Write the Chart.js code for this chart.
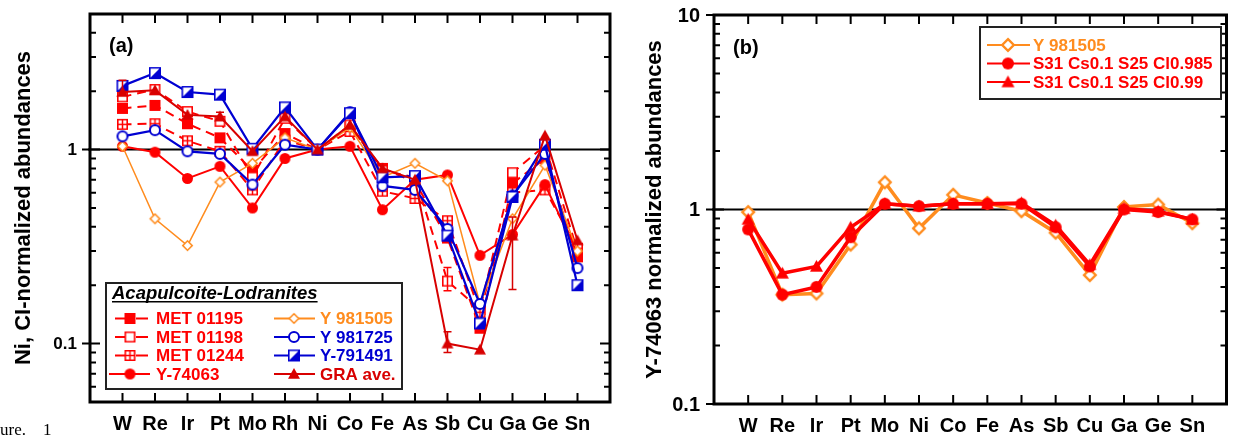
<!DOCTYPE html>
<html>
<head>
<meta charset="utf-8">
<script src="https://cdn.jsdelivr.net/npm/chart.js@4.4.1/dist/chart.umd.min.js"></script>
<style>
  html, body { margin: 0; padding: 0; background: #fff; }
  body { width: 1236px; height: 436px; position: relative; overflow: hidden; }
  #chartA { position: absolute; left: 0; top: 0; }
  #chartB { position: absolute; left: 620px; top: 0; }
  .fig { position: absolute; left: 0; top: 420px; font: 17px "Liberation Serif", serif; white-space: pre; }
</style>
</head>
<body>
<canvas id="chartA" width="620" height="436"></canvas>
<canvas id="chartB" width="616" height="436"></canvas>
<div class="fig">ure.    1</div>
<script>
// ---- data, panel (a) ----
const elementsA = ['W', 'Re', 'Ir', 'Pt', 'Mo', 'Rh', 'Ni', 'Co', 'Fe', 'As', 'Sb', 'Cu', 'Ga', 'Ge', 'Sn'];
const met01195 = [1.63, 1.69, 1.36, 1.15, 0.78, 1.21, 1.0, 1.32, 0.80, 0.68, 0.35, 0.12, 0.67, 0.90, 0.28];
const met01198 = [1.87, 2.04, 1.57, 1.40, 0.72, 1.45, 1.0, 1.34, 0.78, 0.72, 0.21, 0.15, 0.76, 1.05, 0.30];
const met01244 = [1.35, 1.36, 1.11, 0.98, 0.62, 1.12, 1.0, 1.24, 0.61, 0.56, 0.43, 0.145, 0.60, 0.62, 0.31];
const y74063 = [1.04, 0.97, 0.71, 0.82, 0.50, 0.90, 1.0, 1.04, 0.49, 0.70, 0.74, 0.285, 0.365, 0.66, 0.29];
const y981505 = [1.04, 0.44, 0.32, 0.68, 0.85, 1.15, 1.0, 1.30, 0.72, 0.85, 0.69, 0.16, 0.44, 0.83, 0.30];
const y981725 = [1.17, 1.26, 0.98, 0.95, 0.66, 1.06, 1.0, 1.56, 0.65, 0.62, 0.39, 0.16, 0.58, 0.95, 0.245];
const y791491 = [2.13, 2.48, 1.98, 1.92, 1.01, 1.65, 1.0, 1.54, 0.72, 0.73, 0.36, 0.127, 0.57, 1.06, 0.20];
const graAve = [1.98, 2.02, 1.51, 1.48, 0.98, 1.48, 1.0, 1.34, 0.80, 0.70, 0.10, 0.093, 0.36, 1.18, 0.34];
const graErrLow = [1.96, null, null, 1.42, null, null, null, null, null, null, 0.09, null, 0.19, null, null];
const graErrHigh = [2.28, null, null, 1.56, null, null, null, null, null, null, 0.115, null, 0.45, null, null];
const met01198ErrLow = [null, null, null, null, null, null, null, null, null, null, 0.187, null, null, null, null];
const met01198ErrHigh = [null, null, null, null, null, null, null, null, null, null, 0.247, null, null, null, null];
const tickLabelsA = [0.1, 1];

// ---- data, panel (b) ----
const elementsB = ['W', 'Re', 'Ir', 'Pt', 'Mo', 'Ni', 'Co', 'Fe', 'As', 'Sb', 'Cu', 'Ga', 'Ge', 'Sn'];
const y981505B = [0.97, 0.365, 0.37, 0.66, 1.38, 0.80, 1.19, 1.08, 0.98, 0.76, 0.46, 1.03, 1.06, 0.85];
const modelCl0985 = [0.79, 0.365, 0.40, 0.72, 1.07, 1.04, 1.07, 1.07, 1.07, 0.81, 0.51, 1.00, 0.97, 0.89];
const modelCl099 = [0.89, 0.47, 0.51, 0.81, 1.07, 1.04, 1.07, 1.07, 1.08, 0.83, 0.52, 1.01, 0.98, 0.89];
const tickLabelsB = [0.1, 1, 10];

const FONT = '"Liberation Sans", Arial, Helvetica, sans-serif';
const RED = '#ff0000';
const DKRED = '#d80000';
const ORANGE = '#ff8c1e';
const BLUE = '#0000d2';

// little canvases used as point styles (and in the legends)
function marker(kind, color, size, lw) {
    const c = document.createElement('canvas');
    const s = size + 4;
    c.width = s;
    c.height = s;
    const g = c.getContext('2d');
    const m = s / 2, h = size / 2, r = h - lw / 2;
    g.fillStyle = color;
    g.strokeStyle = color;
    g.lineWidth = lw;
    if (kind === 'squareFill') {
        g.fillRect(m - h, m - h, size, size);
        return c;
    }
    if (kind === 'circleFill') {
        g.beginPath();
        g.arc(m, m, h, 0, Math.PI * 2);
        g.fill();
        return c;
    }
    if (kind === 'triangle') {
        g.beginPath();
        g.moveTo(m, m - h);
        g.lineTo(m + h, m + h * 0.8);
        g.lineTo(m - h, m + h * 0.8);
        g.closePath();
        g.fill();
        return c;
    }
    const outline = () => {
        g.beginPath();
        if (kind === 'circleOpen') g.arc(m, m, r, 0, Math.PI * 2);
        else if (kind === 'diamondOpen') {
            g.moveTo(m, m - r);
            g.lineTo(m + r, m);
            g.lineTo(m, m + r);
            g.lineTo(m - r, m);
            g.closePath();
        } else g.rect(m - r, m - r, r * 2, r * 2);
    };
    outline();
    g.fillStyle = '#fff';
    g.fill();
    g.fillStyle = color;
    if (kind === 'squareHalf') {
        g.beginPath();
        g.moveTo(m + r, m - r);
        g.lineTo(m + r, m + r);
        g.lineTo(m - r, m + r);
        g.closePath();
        g.fill();
    }
    if (kind === 'squareCross') {
        g.beginPath();
        g.lineWidth = 1.5;
        g.moveTo(m, m - r);
        g.lineTo(m, m + r);
        g.moveTo(m - r, m);
        g.lineTo(m + r, m);
        g.stroke();
        g.lineWidth = lw;
    }
    outline();
    g.stroke();
    return c;
}

const seriesA = [
    { label: 'MET 01195', data: met01195, color: RED, width: 2, dash: true, mk: marker('squareFill', RED, 11, 2) },
    { label: 'MET 01198', data: met01198, color: RED, width: 2, dash: true, mk: marker('squareOpen', RED, 11, 1.6) },
    { label: 'MET 01244', data: met01244, color: RED, width: 2, dash: true, mk: marker('squareCross', RED, 11, 1.6) },
    { label: 'Y-74063', data: y74063, color: RED, width: 2, dash: false, mk: marker('circleFill', RED, 11, 2) },
    { label: 'Y 981505', data: y981505, color: ORANGE, width: 1.5, dash: false, mk: marker('diamondOpen', ORANGE, 11, 1.6) },
    { label: 'Y 981725', data: y981725, color: BLUE, width: 2.2, dash: false, mk: marker('circleOpen', BLUE, 12, 2) },
    { label: 'Y-791491', data: y791491, color: BLUE, width: 2.2, dash: false, mk: marker('squareHalf', BLUE, 12, 1.6) },
    { label: 'GRA ave.', data: graAve, color: DKRED, width: 2, dash: false, mk: marker('triangle', DKRED, 12, 2) }
];

const seriesB = [
    { label: 'Y 981505', data: y981505B, color: ORANGE, width: 3.5, dash: false, mk: marker('diamondOpen', ORANGE, 14, 2.4) },
    { label: 'S31 Cs0.1 S25 Cl0.985', data: modelCl0985, color: RED, width: 3.5, dash: false, mk: marker('circleFill', RED, 12, 2) },
    { label: 'S31 Cs0.1 S25 Cl0.99', data: modelCl099, color: RED, width: 3.5, dash: false, mk: marker('triangle', RED, 13, 2) }
];

function toDataset(s, order) {
    return {
        label: s.label,
        data: s.data.map((v, i) => ({ x: i + 1, y: v })),
        borderColor: s.color,
        backgroundColor: s.color,
        borderWidth: s.width,
        borderDash: s.dash ? [9, 6] : [],
        pointStyle: s.mk,
        pointRadius: 6,
        pointHoverRadius: 6,
        fill: false,
        tension: 0,
        order: order
    };
}

function legendRow(ctx, s, x0, x1, xm, yc, textX, font) {
    ctx.strokeStyle = s.color;
    ctx.lineWidth = s.width < 2 ? 1.8 : 2.2;
    ctx.beginPath();
    if (s.dash) {
        ctx.moveTo(x0 + 6, yc); ctx.lineTo(xm - 5, yc);
        ctx.moveTo(xm + 6, yc); ctx.lineTo(x1 - 2, yc);
    } else {
        ctx.moveTo(x0, yc); ctx.lineTo(x1, yc);
    }
    ctx.stroke();
    ctx.drawImage(s.mk, xm - s.mk.width / 2, yc - s.mk.height / 2);
    ctx.fillStyle = s.color;
    ctx.font = font;
    ctx.textBaseline = 'middle';
    ctx.textAlign = 'left';
    ctx.fillText(s.label, textX, yc + 1);
}

function drawLegendA(ctx) {
    ctx.save();
    ctx.fillStyle = '#fff';
    ctx.fillRect(106, 283, 296, 106);
    ctx.strokeStyle = '#222';
    ctx.lineWidth = 2;
    ctx.strokeRect(106, 283, 296, 106);
    ctx.fillStyle = '#000';
    ctx.font = 'italic bold 18.5px ' + FONT;
    ctx.textBaseline = 'alphabetic';
    ctx.fillText('Acapulcoite-Lodranites', 112, 299);
    ctx.fillRect(112, 301, ctx.measureText('Acapulcoite-Lodranites').width, 1.5);
    const rows = [318.5, 337, 355.5, 374];
    const font = 'bold 17px ' + FONT;
    for (let i = 0; i < 4; i++) {
        legendRow(ctx, seriesA[i], 109, 150, 130, rows[i], 156, font);
        legendRow(ctx, seriesA[i + 4], 274, 315, 294, rows[i], 320, font);
    }
    ctx.restore();
}

function drawLegendB(ctx) {
    ctx.save();
    ctx.fillStyle = '#fff';
    ctx.fillRect(360, 27, 241, 72);
    ctx.strokeStyle = '#222';
    ctx.lineWidth = 2;
    ctx.strokeRect(360, 27, 241, 72);
    const rows = [45, 63.5, 82];
    seriesB.forEach((s, i) => legendRow(ctx, s, 367, 410, 388, rows[i], 413, 'bold 17px ' + FONT));
    ctx.restore();
}

// frame, inward ticks, y labels, y = 1 line, error bars, panel label and legend
const framePlugin = {
    id: 'frame',
    beforeDatasetsDraw(chart) {
        const { ctx, chartArea: a, scales: { y } } = chart;
        const p = y.getPixelForValue(1);
        ctx.save();
        ctx.strokeStyle = '#000';
        ctx.lineWidth = 2;
        ctx.beginPath();
        ctx.moveTo(a.left - 2, p);
        ctx.lineTo(a.right, p);
        ctx.stroke();
        ctx.restore();
    },
    afterDatasetsDraw(chart, args, opts) {
        const { ctx, scales: { x, y } } = chart;
        ctx.save();
        (opts.errors || []).forEach(e => {
            ctx.strokeStyle = e.color;
            ctx.lineWidth = 1.5;
            e.low.forEach((lo, i) => {
                if (lo === null) return;
                const px = x.getPixelForValue(i + 1);
                const y1 = y.getPixelForValue(lo), y2 = y.getPixelForValue(e.high[i]);
                ctx.beginPath();
                ctx.moveTo(px, y1); ctx.lineTo(px, y2);
                ctx.moveTo(px - 4, y1); ctx.lineTo(px + 4, y1);
                ctx.moveTo(px - 4, y2); ctx.lineTo(px + 4, y2);
                ctx.stroke();
            });
        });
        ctx.restore();
    },
    afterDraw(chart, args, opts) {
        const { ctx, chartArea: a, scales: { x, y } } = chart;
        ctx.save();
        ctx.strokeStyle = '#000';
        ctx.lineWidth = 2;
        ctx.beginPath();
        for (let i = 1; i <= opts.count; i++) {
            const px = x.getPixelForValue(i);
            ctx.moveTo(px, a.top); ctx.lineTo(px, a.top + 9);
            ctx.moveTo(px, a.bottom); ctx.lineTo(px, a.bottom - 9);
        }
        const lo = Math.floor(Math.log10(y.min)), hi = Math.ceil(Math.log10(y.max));
        for (let e = lo; e <= hi; e++) {
            for (let m = 1; m <= 9; m++) {
                const v = m * Math.pow(10, e);
                if (v < y.min * 0.999 || v > y.max * 1.001) continue;
                const py = y.getPixelForValue(v);
                const len = m === 1 ? 10 : 6;
                ctx.moveTo(a.left - (m === 1 ? 8 : 0), py); ctx.lineTo(a.left + len, py);
                ctx.moveTo(a.right, py); ctx.lineTo(a.right - len, py);
            }
        }
        ctx.stroke();
        ctx.lineWidth = 3;
        ctx.strokeRect(a.left, a.top, a.right - a.left, a.bottom - a.top);
        ctx.fillStyle = '#000';
        ctx.font = 'bold ' + opts.yTickSize + 'px ' + FONT;
        ctx.textAlign = 'right';
        ctx.textBaseline = 'middle';
        opts.yLabels.forEach(v => ctx.fillText(String(v), a.left - opts.yTickGap, y.getPixelForValue(v) + 1));
        ctx.textAlign = 'left';
        ctx.font = 'bold 20px ' + FONT;
        ctx.fillText(opts.tag, opts.tagX, opts.tagY);
        ctx.restore();
        if (opts.legend) opts.legend(ctx);
    }
};

function buildChart(id, cats, series, cfg) {
    const n = series.length;
    return new Chart(document.getElementById(id), {
        type: 'line',
        data: { datasets: series.map((s, i) => toDataset(s, cfg.order ? cfg.order[i] : n - i)) },
        plugins: [framePlugin],
        options: {
            responsive: false,
            animation: false,
            devicePixelRatio: 1,
            layout: { padding: { top: cfg.top, right: cfg.right, left: 0, bottom: 0 } },
            plugins: {
                legend: { display: false },
                tooltip: { enabled: false },
                frame: {
                    count: cats.length, yLabels: cfg.yLabels, yTickSize: cfg.yTickSize, yTickGap: cfg.yTickGap,
                    tag: cfg.tag, tagX: cfg.tagX, tagY: cfg.tagY, legend: cfg.legend, errors: cfg.errors
                }
            },
            scales: {
                x: {
                    type: 'linear',
                    min: 0,
                    max: cats.length + 1,
                    afterFit: s => { s.height = cfg.xHeight; },
                    afterBuildTicks: s => { s.ticks = cats.map((c, i) => ({ value: i + 1 })); },
                    grid: { display: false, drawTicks: false },
                    border: { display: false },
                    ticks: {
                        autoSkip: false, maxRotation: 0, padding: 10, color: '#000',
                        font: { family: FONT, size: 20, weight: 'bold' },
                        callback: v => cats[v - 1] || ''
                    }
                },
                y: {
                    type: 'logarithmic',
                    min: cfg.yMin,
                    max: cfg.yMax,
                    afterFit: s => { s.width = cfg.yWidth; },
                    grid: { display: false, drawTicks: false },
                    border: { display: false },
                    ticks: { display: false },
                    title: {
                        display: true, text: cfg.yTitle, color: '#000',
                        font: { family: FONT, size: 22, weight: 'bold' },
                        padding: { top: cfg.titlePad, bottom: 0 }
                    }
                }
            }
        }
    });
}

buildChart('chartA', elementsA, seriesA, {
    top: 14, right: 10, xHeight: 34, yWidth: 90, yMin: 0.05, yMax: 5, yLabels: tickLabelsA,
    yTickSize: 17, yTickGap: 13,
    yTitle: 'Ni, CI-normalized abundances', titlePad: 11,
    tag: '(a)', tagX: 109, tagY: 46, legend: drawLegendA,
    errors: [
        { low: graErrLow, high: graErrHigh, color: DKRED },
        { low: met01198ErrLow, high: met01198ErrHigh, color: RED }
    ]
});

buildChart('chartB', elementsB, seriesB, {
    top: 15, right: 4, xHeight: 32, yWidth: 94, yMin: 0.1, yMax: 10, yLabels: tickLabelsB,
    yTickSize: 20, yTickGap: 14,
    yTitle: 'Y-74063 normalized abundances', titlePad: 22,
    tag: '(b)', tagX: 113, tagY: 48, legend: drawLegendB, order: [3, 2, 1]
});
</script>
</body>
</html>
